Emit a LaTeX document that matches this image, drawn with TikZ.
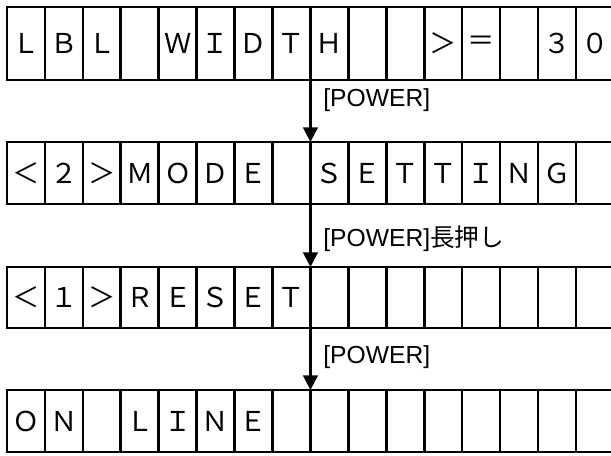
\documentclass[tikz,border=0pt]{standalone}
\usepackage{fontspec}
\setmainfont{Liberation Sans}
\newfontfamily\jp{Noto Sans CJK JP}
\usetikzlibrary{arrows.meta}
\begin{document}
\begin{tikzpicture}[x=0.75pt,y=-0.75pt,
  cell/.style={draw,line width=2pt,inner sep=0pt,outer sep=0pt,minimum width=28.45pt,
    font=\jp\fontsize{20.5}{24}\selectfont},
  flowarrow/.style={line width=1.8pt,-{Triangle[width=11pt,length=11pt]}},
  keylabel/.style={anchor=west,inner sep=0pt,font=\fontsize{18.5}{22}\selectfont}]
\useasboundingbox (0,0) rectangle (611,455);
\clip (0,0) rectangle (611,455);
\def\cw{37.93}
% row 1
\foreach \t [count=\i] in {Ｌ,Ｂ,Ｌ,{},Ｗ,Ｉ,Ｄ,Ｔ,Ｈ,{},{},＞,＝,{},３,０}
  \node[cell,minimum height=54.75pt] (r1c\i) at ({7+\cw*(\i-0.5)},43.5) {\t};
% row 2
\foreach \t [count=\i] in {＜,２,＞,Ｍ,Ｏ,Ｄ,Ｅ,{},Ｓ,Ｅ,Ｔ,Ｔ,Ｉ,Ｎ,Ｇ,{}}
  \node[cell,minimum height=46.5pt] (r2c\i) at ({7+\cw*(\i-0.5)},173) {\t};
% row 3
\foreach \t [count=\i] in {＜,１,＞,Ｒ,Ｅ,Ｓ,Ｅ,Ｔ,{},{},{},{},{},{},{},{}}
  \node[cell,minimum height=45.75pt] (r3c\i) at ({7+\cw*(\i-0.5)},297.5) {\t};
% row 4
\foreach \t [count=\i] in {Ｏ,Ｎ,{},Ｌ,Ｉ,Ｎ,Ｅ,{},{},{},{},{},{},{},{},{}}
  \node[cell,minimum height=46.5pt] (r4c\i) at ({7+\cw*(\i-0.5)},421) {\t};
% arrows
\draw[flowarrow] (r1c8.south east) -- (r2c8.north east);
\draw[flowarrow] (r2c8.south east) -- (r3c8.north east);
\draw[flowarrow] (r3c8.south east) -- (r4c8.north east);
% labels
\node[keylabel] (l1) at (323,100) {[POWER]};
\node[keylabel] (l2) at (323,239) {[POWER]{\jp\fontsize{18.5}{22}\selectfont 長押し}};
\node[keylabel] (l3) at (323,357) {[POWER]};
\end{tikzpicture}
\end{document}
